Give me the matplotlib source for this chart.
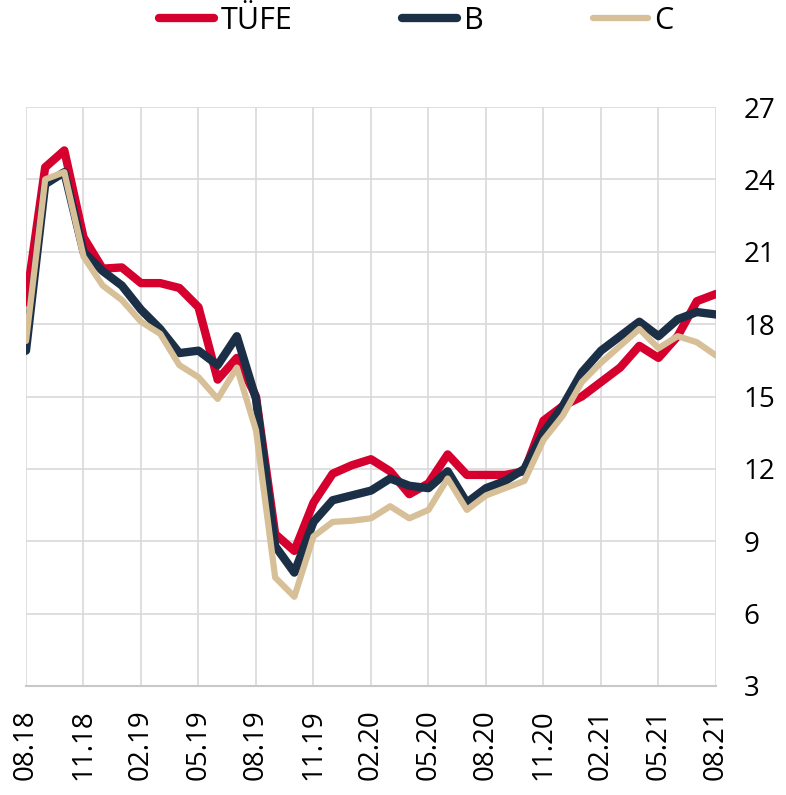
import matplotlib.pyplot as plt

plt.rcParams['font.family'] = ['Open Sans', 'DejaVu Sans']

months = ['08.18', '09.18', '10.18', '11.18', '12.18', '01.19', '02.19', '03.19', '04.19',
          '05.19', '06.19', '07.19', '08.19', '09.19', '10.19', '11.19', '12.19', '01.20',
          '02.20', '03.20', '04.20', '05.20', '06.20', '07.20', '08.20', '09.20', '10.20',
          '11.20', '12.20', '01.21', '02.21', '03.21', '04.21', '05.21', '06.21', '07.21',
          '08.21']

tufe = [18.9, 24.5, 25.2, 21.6, 20.3, 20.35, 19.7, 19.7, 19.5, 18.7, 15.7, 16.6, 15.0,
        9.3, 8.6, 10.6, 11.8, 12.15, 12.4, 11.9, 10.95, 11.4, 12.6, 11.75, 11.75, 11.75,
        11.9, 14.0, 14.6, 15.0, 15.6, 16.2, 17.1, 16.6, 17.5, 18.95, 19.25]
b = [16.9, 23.8, 24.3, 21.0, 20.2, 19.6, 18.6, 17.8, 16.8, 16.9, 16.3, 17.5, 14.9,
     8.8, 7.7, 9.8, 10.7, 10.9, 11.1, 11.6, 11.3, 11.2, 11.9, 10.6, 11.2, 11.5,
     12.0, 13.5, 14.6, 16.0, 16.9, 17.5, 18.1, 17.5, 18.2, 18.5, 18.4]
c = [17.3, 24.0, 24.3, 20.8, 19.6, 19.0, 18.1, 17.6, 16.3, 15.8, 14.9, 16.2, 13.6,
     7.5, 6.7, 9.2, 9.8, 9.85, 9.95, 10.45, 9.95, 10.3, 11.6, 10.3, 10.9, 11.2,
     11.5, 13.2, 14.2, 15.6, 16.4, 17.1, 17.8, 17.0, 17.5, 17.25, 16.7]

x = list(range(len(months)))

fig = plt.figure(figsize=(7.86, 7.95), dpi=100)
ax = fig.add_axes([26 / 786, 1 - 686 / 795, 690 / 786, 579 / 795])

ax.plot(x, tufe, color='#D6002F', lw=6, solid_capstyle='round', label='TÜFE')
ax.plot(x, b, color='#1B3046', lw=6, solid_capstyle='round', label='B')
ax.plot(x, c, color='#D7BF98', lw=4.5, solid_capstyle='round', label='C')

ax.set_xlim(0, 36)
ax.set_ylim(3, 27)
ax.set_xticks(x[::3])
ax.set_xticklabels(months[::3], rotation=90)
ax.set_yticks(range(3, 28, 3))
ax.yaxis.tick_right()
ax.tick_params(axis='both', length=0, labelsize=20)
ax.tick_params(axis='x', pad=17)
ax.tick_params(axis='y', pad=20)

ax.grid(True, color='#d9d9d9', lw=1.2)
ax.set_axisbelow(True)
for s in ['top', 'left', 'right']:
    ax.spines[s].set_visible(False)
ax.spines['bottom'].set_color('#c8c8c8')
ax.spines['bottom'].set_linewidth(1.5)

fig.legend(loc='upper center', bbox_to_anchor=(0.53, 1.027), ncol=3, frameon=False,
           fontsize=22, handlelength=1.8, handletextpad=0.2, columnspacing=3.6)

fig.savefig('out.png', dpi=100)
